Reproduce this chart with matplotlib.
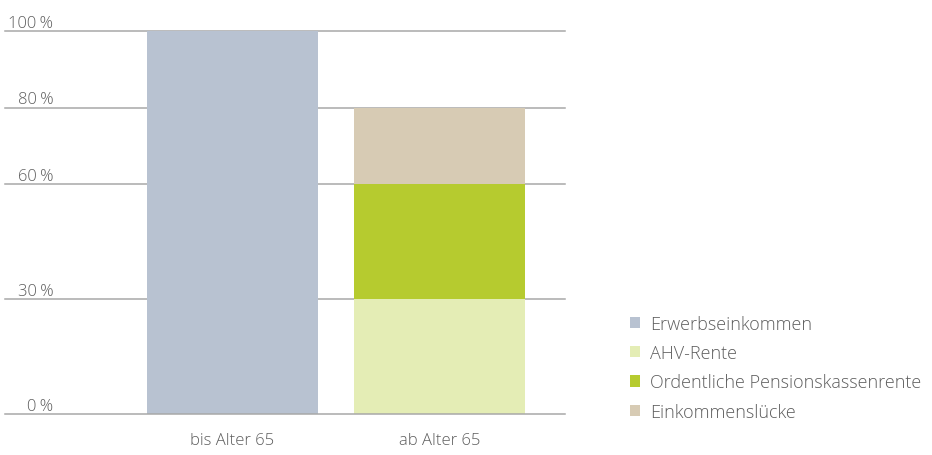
import matplotlib
matplotlib.use("Agg")
import matplotlib.pyplot as plt
from matplotlib.patches import Patch
from matplotlib.transforms import blended_transform_factory

plt.rcParams['font.family'] = ['Open Sans', 'DejaVu Sans']

categories = ["bis Alter 65", "ab Alter 65"]
series_names = ["Erwerbseinkommen", "AHV-Rente", "Ordentliche Pensionskassenrente", "Einkommenslücke"]
erwerb = [100, 0]
ahv = [0, 30]
pk = [0, 30]
luecke = [0, 20]
yticks = [0, 30, 60, 80, 100]
ytick_labels = ["0\u2009%", "30\u2009%", "60\u2009%", "80\u2009%", "100\u2009%"]

colors = ["#b8c2d1", "#e4edb5", "#b6cb2f", "#d7cbb4"]
text_color = "#5e5e5e"
grid_color = "#a8a8a8"

W, H = 932, 456
fig = plt.figure(figsize=(W / 100, H / 100), dpi=100)
ax_left, ax_right = 5, 565
ax_bottom, ax_top = 415, 32
ax = fig.add_axes([ax_left / W, (H - ax_bottom) / H, (ax_right - ax_left) / W, (ax_bottom - ax_top) / H])

x = list(range(len(categories)))
bw = 0.826
bottoms = [0] * len(categories)
for vals, col in zip([erwerb, ahv, pk, luecke], colors):
    ax.bar(x, vals, bw, bottom=bottoms, color=col, zorder=2, linewidth=0)
    bottoms = [b + v for b, v in zip(bottoms, vals)]

ax.set_xlim(-1.099, 1.606)
ax.set_ylim(0, 100)
for t in yticks:
    ax.axhline(t, color=grid_color, lw=1.1, zorder=1 if t else 3, clip_on=False)

for s in ax.spines.values():
    s.set_visible(False)
ax.set_yticks([])
ax.set_xticks(x)
ax.set_xticklabels(categories, fontsize=12, color=text_color, fontweight='light')
ax.tick_params(axis='x', length=0, pad=13)

trans = blended_transform_factory(fig.transFigure, ax.transData)
for t, lab in zip(yticks, ytick_labels):
    ax.text(53.5 / W, t + 0.1, lab, transform=trans, ha='right', va='bottom', fontsize=12,
            color=text_color, fontweight='light')

handles = [Patch(facecolor=c, edgecolor='none') for c in colors]
leg = fig.legend(handles, series_names, loc='upper left', bbox_to_anchor=(630 / W, 1 - 316 / H),
                 frameon=False, fontsize=13, handlelength=0.58, handleheight=0.58,
                 handletextpad=0.55, labelspacing=0.62, borderaxespad=0, borderpad=0)
for t in leg.get_texts():
    t.set_color(text_color)
    t.set_fontweight('light')

fig.savefig("out.png", dpi=100)
